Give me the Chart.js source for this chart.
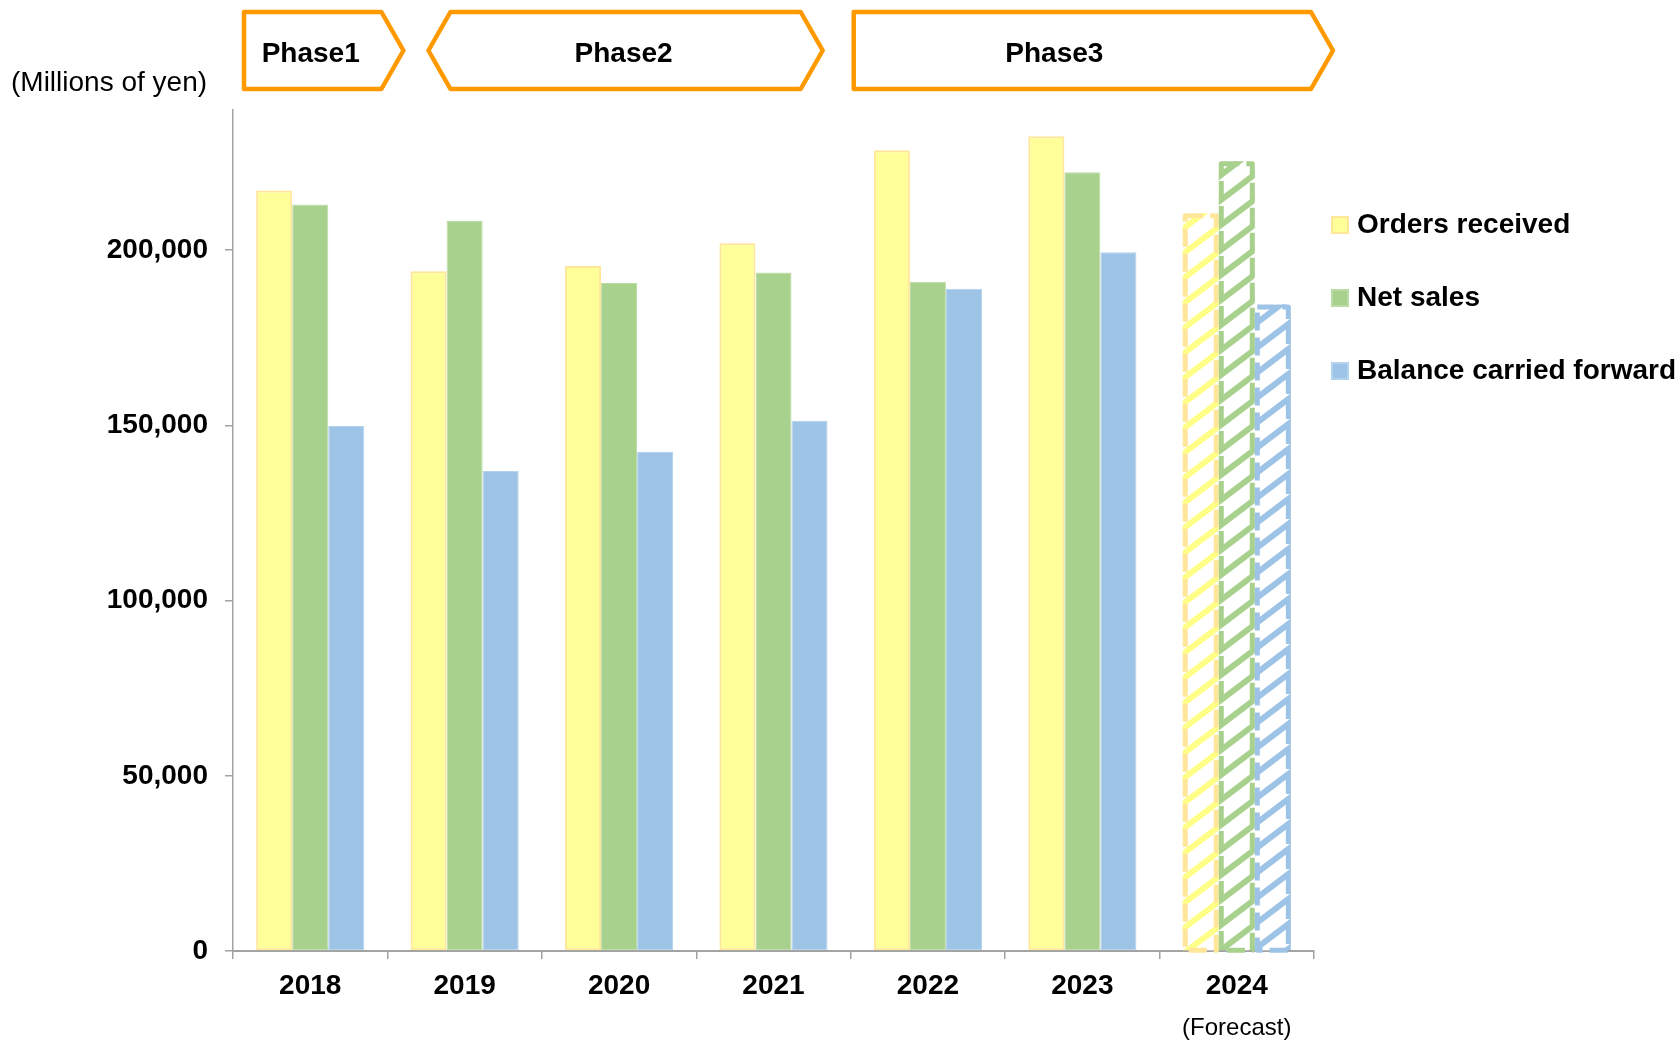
<!DOCTYPE html>
<html>
<head>
<meta charset="utf-8">
<script src="https://cdn.jsdelivr.net/npm/chart.js@4.4.1/dist/chart.umd.min.js"></script>
<style>
  html, body { margin: 0; padding: 0; background: #ffffff; }
  #wrap { width: 1676px; height: 1041px; position: relative; }
</style>
</head>
<body>
<div id="wrap"><canvas id="c" width="1676" height="1041"></canvas></div>
<script>
// ---------------- data ----------------
const categories = ['2018', '2019', '2020', '2021', '2022', '2023', '2024'];
const forecastIndex = 6;
const forecastNote = '(Forecast)';
const seriesNames = ['Orders received', 'Net sales', 'Balance carried forward'];
const ordersReceived = [217000, 194000, 195500, 202000, 228500, 232500, 210500];
const netSales       = [213000, 208300, 190600, 193600, 191000, 222200, 225400];
const balanceForward = [149800, 137000, 142500, 151300, 189000, 199400, 184500];
const yTickValues = [0, 50000, 100000, 150000, 200000];
const yAxisMax = 240000;
const unitLabel = '(Millions of yen)';
const phaseLabels = ['Phase1', 'Phase2', 'Phase3'];
const phaseFrom = [0, 1, 4];
const phaseTo = [0, 3, 6];

// ---------------- style ----------------
const FONT = "'Liberation Sans', Arial, Helvetica, sans-serif";
const fills = ['#FFFF99', '#A9D18E', '#9DC3E6'];
const edges = ['#FFE699', '#BBDBA5', '#B3D2EE'];
const dashEdges = ['#FFE699', '#A9D18E', '#9DC3E6'];
const stripeColors = ['#FFFF88', '#A9D18E', '#9DC3E6'];
const axisGray = '#A3A3A3';
const orange = '#FF9900';
// banner geometry relative to category edges
const phaseGeom = [
  { l: 11, r: 16, leftArrow: false, textDx: -13 },
  { l: 41, r: -28, leftArrow: true, textDx: -2 },
  { l: 3, r: 19, leftArrow: false, textDx: -39 }
];

const canvas = document.getElementById('c');
const ctx = canvas.getContext('2d');

function makeStripePattern(color) {
  const W = 33, H = 25;
  const t = document.createElement('canvas');
  t.width = W; t.height = H;
  const g = t.getContext('2d');
  g.fillStyle = '#ffffff';
  g.fillRect(0, 0, W, H);
  g.strokeStyle = color;
  g.lineWidth = 6;
  for (let n = 0; n <= 2; n++) {
    g.beginPath();
    g.moveTo(-W, H * (n + 1));
    g.lineTo(2 * W, H * (n - 2));
    g.stroke();
  }
  return ctx.createPattern(t, 'repeat');
}

const seriesValues = [ordersReceived, netSales, balanceForward];
const datasets = seriesValues.map((vals, s) => {
  const pat = makeStripePattern(stripeColors[s]);
  return {
    label: seriesNames[s],
    data: vals,
    backgroundColor: categories.map((_, i) => i === forecastIndex ? pat : fills[s]),
    borderColor: edges[s],
    borderWidth: categories.map((_, i) => i === forecastIndex ? 0 : (s === 0 ? 2 : 1)),
    borderSkipped: false,
    categoryPercentage: 0.7,
    barPercentage: 1.0
  };
});

const overlay = {
  id: 'overlay',
  afterDatasetsDraw(chart) {
    const c = chart.ctx;
    c.save();
    chart.data.datasets.forEach((ds, s) => {
      const meta = chart.getDatasetMeta(s);
      const el = meta.data[forecastIndex];
      if (!el) return;
      const p = el.getProps(['x', 'y', 'base', 'width'], true);
      const lw = 5;
      const left = p.x - p.width / 2, top = Math.min(p.y, p.base), bottom = Math.max(p.y, p.base);
      c.strokeStyle = dashEdges[s];
      c.lineWidth = lw;
      c.lineJoin = 'round';
      c.setLineDash([18, 7]);
      c.strokeRect(left + lw / 2, top + lw / 2, p.width - lw, bottom - top - lw / 2);
    });
    c.restore();
  },
  afterDraw(chart) {
    const c = chart.ctx;
    const xs = chart.scales.x;
    const catW = (xs.right - xs.left) / categories.length;
    const edge = i => xs.left + i * catW;
    c.save();
    // unit label
    c.fillStyle = '#000';
    c.font = `28px ${FONT}`;
    c.textAlign = 'left';
    c.textBaseline = 'middle';
    c.fillText(unitLabel, 11, 83);
    // forecast note
    c.font = `24px ${FONT}`;
    c.textAlign = 'center';
    c.fillText(forecastNote, xs.getPixelForValue(forecastIndex), 1028);
    // phase banners
    const top = 12, bot = 89, mid = (top + bot) / 2, depth = 22;
    phaseLabels.forEach((lab, k) => {
      const g = phaseGeom[k];
      const L = edge(phaseFrom[k]) + g.l;
      const R = edge(phaseTo[k] + 1) + g.r;
      c.beginPath();
      if (g.leftArrow) {
        c.moveTo(L, mid);
        c.lineTo(L + depth, top);
      } else {
        c.moveTo(L, top);
      }
      c.lineTo(R - depth, top);
      c.lineTo(R, mid);
      c.lineTo(R - depth, bot);
      if (g.leftArrow) {
        c.lineTo(L + depth, bot);
      } else {
        c.lineTo(L, bot);
      }
      c.closePath();
      c.fillStyle = '#fff';
      c.fill();
      c.strokeStyle = orange;
      c.lineWidth = 4.5;
      c.lineJoin = 'round';
      c.stroke();
      c.fillStyle = '#000';
      c.font = `bold 28px ${FONT}`;
      c.textAlign = 'center';
      c.textBaseline = 'middle';
      c.fillText(lab, (L + R) / 2 + g.textDx, 54);
    });
    // legend
    const lx = xs.right + 17;
    const ly = [225, 298, 371];
    chart.data.datasets.forEach((ds, s) => {
      const y = ly[s];
      c.fillStyle = fills[s];
      c.fillRect(lx, y - 9, 18, 18);
      c.strokeStyle = s === 0 ? '#FFE699' : edges[s];
      c.lineWidth = 2;
      c.strokeRect(lx + 1, y - 8, 16, 16);
      c.fillStyle = '#000';
      c.font = `bold 28px ${FONT}`;
      c.textAlign = 'left';
      c.textBaseline = 'middle';
      c.fillText(ds.label, lx + 26, y);
    });
    c.restore();
  }
};

new Chart(ctx, {
  type: 'bar',
  data: { labels: categories, datasets },
  options: {
    responsive: false,
    animation: false,
    layout: { padding: { top: 110, right: 362, left: 0, bottom: 0 } },
    plugins: { legend: { display: false }, tooltip: { enabled: false } },
    scales: {
      x: {
        grid: { display: true, drawOnChartArea: false, drawTicks: true, tickLength: 8, color: axisGray, tickColor: axisGray, lineWidth: 1.5, offset: true },
        border: { display: true, color: axisGray, width: 2 },
        ticks: { color: '#000', font: { family: FONT, size: 28, weight: 'bold' }, padding: 10, maxRotation: 0 },
        afterFit(s) { s.height = 90; }
      },
      y: {
        min: 0,
        max: yAxisMax,
        afterBuildTicks(s) { s.ticks = yTickValues.map(v => ({ value: v })); },
        grid: { display: true, drawOnChartArea: false, drawTicks: true, tickLength: 8, color: axisGray, tickColor: axisGray, lineWidth: 1.5 },
        border: { display: true, color: axisGray, width: 1.5 },
        ticks: {
          color: '#000',
          font: { family: FONT, size: 28, weight: 'bold' },
          padding: 17,
          callback: v => Number(v).toLocaleString('en-US')
        },
        afterFit(s) { s.width = 233; }
      }
    }
  },
  plugins: [overlay]
});
</script>
</body>
</html>
